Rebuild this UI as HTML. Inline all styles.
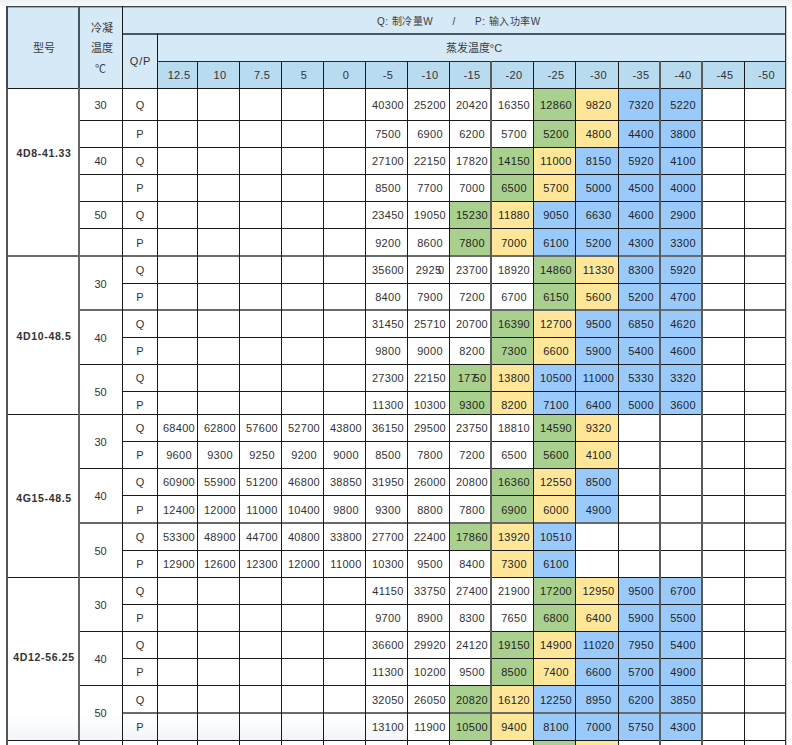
<!DOCTYPE html>
<html lang="zh-CN"><head><meta charset="utf-8"><style>
html,body{margin:0;padding:0;background:#fff;}
body{width:792px;height:745px;position:relative;overflow:hidden;font-family:"Liberation Sans",sans-serif;}
div,p{position:absolute;margin:0;padding:0;}
p{font-size:11px;color:#333;text-align:center;white-space:nowrap;}
p.b{font-weight:bold;font-size:10.5px;letter-spacing:0.65px;}
p.d{letter-spacing:0.3px;}
p.k{color:#242424;}
p.l{text-align:left;}
p.h1{font-size:10px;letter-spacing:0.5px;color:#3c3c3c;}
p.h2{color:#3c3c3c;}
p.qp{letter-spacing:0.8px;}
p.cj{font-size:11px;color:#3c3c3c;}
</style></head><body>
<div style="left:0px;top:0px;width:792px;height:6px;background:linear-gradient(#eef1f4,#f8f9fb);"></div>
<div style="left:6px;top:6px;width:780px;height:82px;background:#d5e9f7;"></div>
<div style="left:157px;top:61px;width:629px;height:27px;background:#b8dbf0;"></div>
<div style="left:533px;top:88px;width:42px;height:32px;background:#a9d08e;"></div>
<div style="left:575px;top:88px;width:43px;height:32px;background:#ffe699;"></div>
<div style="left:618px;top:88px;width:42px;height:32px;background:#9acafb;"></div>
<div style="left:660px;top:88px;width:42px;height:32px;background:#9acafb;"></div>
<div style="left:533px;top:120px;width:42px;height:27px;background:#a9d08e;"></div>
<div style="left:575px;top:120px;width:43px;height:27px;background:#ffe699;"></div>
<div style="left:618px;top:120px;width:42px;height:27px;background:#9acafb;"></div>
<div style="left:660px;top:120px;width:42px;height:27px;background:#9acafb;"></div>
<div style="left:491px;top:147px;width:42px;height:27px;background:#a9d08e;"></div>
<div style="left:533px;top:147px;width:42px;height:27px;background:#ffe699;"></div>
<div style="left:575px;top:147px;width:43px;height:27px;background:#9acafb;"></div>
<div style="left:618px;top:147px;width:42px;height:27px;background:#9acafb;"></div>
<div style="left:660px;top:147px;width:42px;height:27px;background:#9acafb;"></div>
<div style="left:491px;top:174px;width:42px;height:27px;background:#a9d08e;"></div>
<div style="left:533px;top:174px;width:42px;height:27px;background:#ffe699;"></div>
<div style="left:575px;top:174px;width:43px;height:27px;background:#9acafb;"></div>
<div style="left:618px;top:174px;width:42px;height:27px;background:#9acafb;"></div>
<div style="left:660px;top:174px;width:42px;height:27px;background:#9acafb;"></div>
<div style="left:449px;top:201px;width:42px;height:27px;background:#a9d08e;"></div>
<div style="left:491px;top:201px;width:42px;height:27px;background:#ffe699;"></div>
<div style="left:533px;top:201px;width:42px;height:27px;background:#9acafb;"></div>
<div style="left:575px;top:201px;width:43px;height:27px;background:#9acafb;"></div>
<div style="left:618px;top:201px;width:42px;height:27px;background:#9acafb;"></div>
<div style="left:660px;top:201px;width:42px;height:27px;background:#9acafb;"></div>
<div style="left:449px;top:228px;width:42px;height:28px;background:#a9d08e;"></div>
<div style="left:491px;top:228px;width:42px;height:28px;background:#ffe699;"></div>
<div style="left:533px;top:228px;width:42px;height:28px;background:#9acafb;"></div>
<div style="left:575px;top:228px;width:43px;height:28px;background:#9acafb;"></div>
<div style="left:618px;top:228px;width:42px;height:28px;background:#9acafb;"></div>
<div style="left:660px;top:228px;width:42px;height:28px;background:#9acafb;"></div>
<div style="left:533px;top:256px;width:42px;height:27px;background:#a9d08e;"></div>
<div style="left:575px;top:256px;width:43px;height:27px;background:#ffe699;"></div>
<div style="left:618px;top:256px;width:42px;height:27px;background:#9acafb;"></div>
<div style="left:660px;top:256px;width:42px;height:27px;background:#9acafb;"></div>
<div style="left:533px;top:283px;width:42px;height:27px;background:#a9d08e;"></div>
<div style="left:575px;top:283px;width:43px;height:27px;background:#ffe699;"></div>
<div style="left:618px;top:283px;width:42px;height:27px;background:#9acafb;"></div>
<div style="left:660px;top:283px;width:42px;height:27px;background:#9acafb;"></div>
<div style="left:491px;top:310px;width:42px;height:27px;background:#a9d08e;"></div>
<div style="left:533px;top:310px;width:42px;height:27px;background:#ffe699;"></div>
<div style="left:575px;top:310px;width:43px;height:27px;background:#9acafb;"></div>
<div style="left:618px;top:310px;width:42px;height:27px;background:#9acafb;"></div>
<div style="left:660px;top:310px;width:42px;height:27px;background:#9acafb;"></div>
<div style="left:491px;top:337px;width:42px;height:27px;background:#a9d08e;"></div>
<div style="left:533px;top:337px;width:42px;height:27px;background:#ffe699;"></div>
<div style="left:575px;top:337px;width:43px;height:27px;background:#9acafb;"></div>
<div style="left:618px;top:337px;width:42px;height:27px;background:#9acafb;"></div>
<div style="left:660px;top:337px;width:42px;height:27px;background:#9acafb;"></div>
<div style="left:449px;top:364px;width:42px;height:27px;background:#a9d08e;"></div>
<div style="left:491px;top:364px;width:42px;height:27px;background:#ffe699;"></div>
<div style="left:533px;top:364px;width:42px;height:27px;background:#9acafb;"></div>
<div style="left:575px;top:364px;width:43px;height:27px;background:#9acafb;"></div>
<div style="left:618px;top:364px;width:42px;height:27px;background:#9acafb;"></div>
<div style="left:660px;top:364px;width:42px;height:27px;background:#9acafb;"></div>
<div style="left:449px;top:391px;width:42px;height:23px;background:#a9d08e;"></div>
<div style="left:491px;top:391px;width:42px;height:23px;background:#ffe699;"></div>
<div style="left:533px;top:391px;width:42px;height:23px;background:#9acafb;"></div>
<div style="left:575px;top:391px;width:43px;height:23px;background:#9acafb;"></div>
<div style="left:618px;top:391px;width:42px;height:23px;background:#9acafb;"></div>
<div style="left:660px;top:391px;width:42px;height:23px;background:#9acafb;"></div>
<div style="left:533px;top:414px;width:42px;height:27px;background:#a9d08e;"></div>
<div style="left:575px;top:414px;width:43px;height:27px;background:#ffe699;"></div>
<div style="left:533px;top:441px;width:42px;height:27px;background:#a9d08e;"></div>
<div style="left:575px;top:441px;width:43px;height:27px;background:#ffe699;"></div>
<div style="left:491px;top:468px;width:42px;height:27px;background:#a9d08e;"></div>
<div style="left:533px;top:468px;width:42px;height:27px;background:#ffe699;"></div>
<div style="left:575px;top:468px;width:43px;height:27px;background:#9acafb;"></div>
<div style="left:491px;top:495px;width:42px;height:28px;background:#a9d08e;"></div>
<div style="left:533px;top:495px;width:42px;height:28px;background:#ffe699;"></div>
<div style="left:575px;top:495px;width:43px;height:28px;background:#9acafb;"></div>
<div style="left:449px;top:523px;width:42px;height:27px;background:#a9d08e;"></div>
<div style="left:491px;top:523px;width:42px;height:27px;background:#ffe699;"></div>
<div style="left:533px;top:523px;width:42px;height:27px;background:#9acafb;"></div>
<div style="left:491px;top:550px;width:42px;height:27px;background:#ffe699;"></div>
<div style="left:533px;top:550px;width:42px;height:27px;background:#9acafb;"></div>
<div style="left:533px;top:577px;width:42px;height:27px;background:#a9d08e;"></div>
<div style="left:575px;top:577px;width:43px;height:27px;background:#ffe699;"></div>
<div style="left:618px;top:577px;width:42px;height:27px;background:#9acafb;"></div>
<div style="left:660px;top:577px;width:42px;height:27px;background:#9acafb;"></div>
<div style="left:533px;top:604px;width:42px;height:27px;background:#a9d08e;"></div>
<div style="left:575px;top:604px;width:43px;height:27px;background:#ffe699;"></div>
<div style="left:618px;top:604px;width:42px;height:27px;background:#9acafb;"></div>
<div style="left:660px;top:604px;width:42px;height:27px;background:#9acafb;"></div>
<div style="left:491px;top:631px;width:42px;height:27px;background:#a9d08e;"></div>
<div style="left:533px;top:631px;width:42px;height:27px;background:#ffe699;"></div>
<div style="left:575px;top:631px;width:43px;height:27px;background:#9acafb;"></div>
<div style="left:618px;top:631px;width:42px;height:27px;background:#9acafb;"></div>
<div style="left:660px;top:631px;width:42px;height:27px;background:#9acafb;"></div>
<div style="left:491px;top:658px;width:42px;height:27px;background:#a9d08e;"></div>
<div style="left:533px;top:658px;width:42px;height:27px;background:#ffe699;"></div>
<div style="left:575px;top:658px;width:43px;height:27px;background:#9acafb;"></div>
<div style="left:618px;top:658px;width:42px;height:27px;background:#9acafb;"></div>
<div style="left:660px;top:658px;width:42px;height:27px;background:#9acafb;"></div>
<div style="left:449px;top:685px;width:42px;height:28px;background:#a9d08e;"></div>
<div style="left:491px;top:685px;width:42px;height:28px;background:#ffe699;"></div>
<div style="left:533px;top:685px;width:42px;height:28px;background:#9acafb;"></div>
<div style="left:575px;top:685px;width:43px;height:28px;background:#9acafb;"></div>
<div style="left:618px;top:685px;width:42px;height:28px;background:#9acafb;"></div>
<div style="left:660px;top:685px;width:42px;height:28px;background:#9acafb;"></div>
<div style="left:449px;top:713px;width:42px;height:27px;background:#a9d08e;"></div>
<div style="left:491px;top:713px;width:42px;height:27px;background:#ffe699;"></div>
<div style="left:533px;top:713px;width:42px;height:27px;background:#9acafb;"></div>
<div style="left:575px;top:713px;width:43px;height:27px;background:#9acafb;"></div>
<div style="left:618px;top:713px;width:42px;height:27px;background:#9acafb;"></div>
<div style="left:660px;top:713px;width:42px;height:27px;background:#9acafb;"></div>
<div style="left:533px;top:740px;width:42px;height:5px;background:#a9d08e;"></div>
<div style="left:575px;top:740px;width:43px;height:5px;background:#ffe699;"></div>
<div style="left:8px;top:714px;width:400px;height:26px;background:linear-gradient(to bottom, rgba(240,245,250,0), rgba(238,244,249,1));opacity:0.8"></div>
<div style="left:6px;top:6px;width:780px;height:1px;background:#3a454e;"></div>
<div style="left:8px;top:7px;width:777px;height:1px;background:#9fabb5;"></div>
<div style="left:122px;top:33px;width:664px;height:2px;background:#4a5863;"></div>
<div style="left:157px;top:61px;width:629px;height:1px;background:#1d2b36;"></div>
<div style="left:6px;top:88px;width:780px;height:1px;background:#1a1a1a;"></div>
<div style="left:78px;top:120px;width:708px;height:1px;background:#1a1a1a;"></div>
<div style="left:78px;top:147px;width:708px;height:1px;background:#1a1a1a;"></div>
<div style="left:78px;top:174px;width:708px;height:1px;background:#1a1a1a;"></div>
<div style="left:78px;top:201px;width:708px;height:1px;background:#1a1a1a;"></div>
<div style="left:78px;top:228px;width:708px;height:1px;background:#1a1a1a;"></div>
<div style="left:6px;top:255px;width:780px;height:2px;background:#6a6a6a;"></div>
<div style="left:122px;top:283px;width:664px;height:1px;background:#1a1a1a;"></div>
<div style="left:78px;top:309px;width:708px;height:2px;background:#6a6a6a;"></div>
<div style="left:122px;top:337px;width:664px;height:1px;background:#1a1a1a;"></div>
<div style="left:78px;top:364px;width:708px;height:1px;background:#1a1a1a;"></div>
<div style="left:122px;top:391px;width:664px;height:1px;background:#1a1a1a;"></div>
<div style="left:6px;top:414px;width:780px;height:1px;background:#1a1a1a;"></div>
<div style="left:122px;top:441px;width:664px;height:1px;background:#1a1a1a;"></div>
<div style="left:78px;top:468px;width:708px;height:1px;background:#1a1a1a;"></div>
<div style="left:122px;top:495px;width:664px;height:1px;background:#1a1a1a;"></div>
<div style="left:78px;top:522px;width:708px;height:2px;background:#6a6a6a;"></div>
<div style="left:122px;top:550px;width:664px;height:1px;background:#1a1a1a;"></div>
<div style="left:6px;top:577px;width:780px;height:1px;background:#1a1a1a;"></div>
<div style="left:122px;top:604px;width:664px;height:1px;background:#1a1a1a;"></div>
<div style="left:78px;top:631px;width:708px;height:1px;background:#1a1a1a;"></div>
<div style="left:122px;top:658px;width:664px;height:1px;background:#1a1a1a;"></div>
<div style="left:78px;top:685px;width:708px;height:1px;background:#1a1a1a;"></div>
<div style="left:122px;top:712px;width:664px;height:2px;background:#6a6a6a;"></div>
<div style="left:6px;top:740px;width:780px;height:1px;background:#1a1a1a;"></div>
<div style="left:6px;top:6px;width:2px;height:739px;background:#555;"></div>
<div style="left:78px;top:6px;width:2px;height:739px;background:#666;"></div>
<div style="left:78px;top:6px;width:2px;height:82px;background:#47535d;"></div>
<div style="left:6px;top:6px;width:2px;height:82px;background:#3f4b55;"></div>
<div style="left:122px;top:6px;width:1px;height:739px;background:#1a1a1a;"></div>
<div style="left:157px;top:33px;width:1px;height:712px;background:#1a1a1a;"></div>
<div style="left:197px;top:61px;width:1px;height:684px;background:#1a1a1a;"></div>
<div style="left:239px;top:61px;width:1px;height:684px;background:#1a1a1a;"></div>
<div style="left:281px;top:61px;width:1px;height:684px;background:#1a1a1a;"></div>
<div style="left:323px;top:61px;width:1px;height:684px;background:#1a1a1a;"></div>
<div style="left:365px;top:61px;width:1px;height:684px;background:#1a1a1a;"></div>
<div style="left:407px;top:61px;width:1px;height:684px;background:#1a1a1a;"></div>
<div style="left:449px;top:61px;width:1px;height:684px;background:#1a1a1a;"></div>
<div style="left:490px;top:61px;width:2px;height:684px;background:#5a5a5a;"></div>
<div style="left:533px;top:61px;width:1px;height:684px;background:#1a1a1a;"></div>
<div style="left:575px;top:61px;width:1px;height:684px;background:#1a1a1a;"></div>
<div style="left:618px;top:61px;width:1px;height:684px;background:#1a1a1a;"></div>
<div style="left:659px;top:61px;width:2px;height:684px;background:#5a5a5a;"></div>
<div style="left:701px;top:61px;width:2px;height:684px;background:#5a5a5a;"></div>
<div style="left:744px;top:61px;width:1px;height:684px;background:#1a1a1a;"></div>
<div style="left:785px;top:6px;width:1px;height:739px;background:#333;"></div>
<div style="left:786px;top:6px;width:1px;height:739px;background:#c4c4c4;"></div>
<p class="cj" style="left:8px;top:7px;width:72px;height:82px;line-height:82px">型号</p>
<p class="cj" style="left:80px;top:18px;width:44px;height:60px;line-height:20px">冷凝<br>温度<br><span style="position:relative;left:-2px;top:0.5px">℃</span></p>
<p class="qp" style="left:123.5px;top:34px;width:34px;height:54px;line-height:54px">Q/P</p>
<p class="l h1" style="left:377px;top:9px;height:26px;line-height:26px">Q: 制冷量W</p>
<p class="l h1" style="left:452.5px;top:9px;height:26px;line-height:26px">/</p>
<p class="l h1" style="left:475px;top:9px;height:26px;line-height:26px">P: 输入功率W</p>
<p class="h2" style="left:160px;top:35px;width:628px;height:27px;line-height:27px">蒸发温度°C</p>
<p class="d" style="left:159px;top:62px;width:40px;height:26px;line-height:26px">12.5</p>
<p class="d" style="left:199px;top:62px;width:42px;height:26px;line-height:26px">10</p>
<p class="d" style="left:241px;top:62px;width:42px;height:26px;line-height:26px">7.5</p>
<p class="d" style="left:283px;top:62px;width:42px;height:26px;line-height:26px">5</p>
<p class="d" style="left:325px;top:62px;width:42px;height:26px;line-height:26px">0</p>
<p class="d" style="left:367px;top:62px;width:42px;height:26px;line-height:26px">-5</p>
<p class="d" style="left:409px;top:62px;width:42px;height:26px;line-height:26px">-10</p>
<p class="d" style="left:451px;top:62px;width:42px;height:26px;line-height:26px">-15</p>
<p class="d" style="left:493px;top:62px;width:42px;height:26px;line-height:26px">-20</p>
<p class="d" style="left:535px;top:62px;width:42px;height:26px;line-height:26px">-25</p>
<p class="d" style="left:577px;top:62px;width:43px;height:26px;line-height:26px">-30</p>
<p class="d" style="left:620px;top:62px;width:42px;height:26px;line-height:26px">-35</p>
<p class="d" style="left:662px;top:62px;width:42px;height:26px;line-height:26px">-40</p>
<p class="d" style="left:704px;top:62px;width:42px;height:26px;line-height:26px">-45</p>
<p class="d" style="left:746px;top:62px;width:41px;height:26px;line-height:26px">-50</p>
<p class="b" style="left:8px;top:140px;width:72px;height:26px;line-height:26px">4D8-41.33</p>
<p style="left:79px;top:89px;width:43px;height:32px;line-height:32px">30</p>
<p style="left:79px;top:148px;width:43px;height:27px;line-height:27px">40</p>
<p style="left:79px;top:202px;width:43px;height:27px;line-height:27px">50</p>
<p style="left:123px;top:89px;width:34px;height:32px;line-height:32px">Q</p>
<p class="d" style="left:367px;top:89px;width:42px;height:32px;line-height:32px">40300</p>
<p class="d" style="left:409px;top:89px;width:42px;height:32px;line-height:32px">25200</p>
<p class="d" style="left:451px;top:89px;width:42px;height:32px;line-height:32px">20420</p>
<p class="d" style="left:493px;top:89px;width:42px;height:32px;line-height:32px">16350</p>
<p class="d k" style="left:535px;top:89px;width:42px;height:32px;line-height:32px">12860</p>
<p class="d k" style="left:577px;top:89px;width:43px;height:32px;line-height:32px">9820</p>
<p class="d k" style="left:620px;top:89px;width:42px;height:32px;line-height:32px">7320</p>
<p class="d k" style="left:662px;top:89px;width:42px;height:32px;line-height:32px">5220</p>
<p style="left:123px;top:121px;width:34px;height:27px;line-height:27px">P</p>
<p class="d" style="left:367px;top:121px;width:42px;height:27px;line-height:27px">7500</p>
<p class="d" style="left:409px;top:121px;width:42px;height:27px;line-height:27px">6900</p>
<p class="d" style="left:451px;top:121px;width:42px;height:27px;line-height:27px">6200</p>
<p class="d" style="left:493px;top:121px;width:42px;height:27px;line-height:27px">5700</p>
<p class="d k" style="left:535px;top:121px;width:42px;height:27px;line-height:27px">5200</p>
<p class="d k" style="left:577px;top:121px;width:43px;height:27px;line-height:27px">4800</p>
<p class="d k" style="left:620px;top:121px;width:42px;height:27px;line-height:27px">4400</p>
<p class="d k" style="left:662px;top:121px;width:42px;height:27px;line-height:27px">3800</p>
<p style="left:123px;top:148px;width:34px;height:27px;line-height:27px">Q</p>
<p class="d" style="left:367px;top:148px;width:42px;height:27px;line-height:27px">27100</p>
<p class="d" style="left:409px;top:148px;width:42px;height:27px;line-height:27px">22150</p>
<p class="d" style="left:451px;top:148px;width:42px;height:27px;line-height:27px">17820</p>
<p class="d k" style="left:493px;top:148px;width:42px;height:27px;line-height:27px">14150</p>
<p class="d k" style="left:535px;top:148px;width:42px;height:27px;line-height:27px">11000</p>
<p class="d k" style="left:577px;top:148px;width:43px;height:27px;line-height:27px">8150</p>
<p class="d k" style="left:620px;top:148px;width:42px;height:27px;line-height:27px">5920</p>
<p class="d k" style="left:662px;top:148px;width:42px;height:27px;line-height:27px">4100</p>
<p style="left:123px;top:175px;width:34px;height:27px;line-height:27px">P</p>
<p class="d" style="left:367px;top:175px;width:42px;height:27px;line-height:27px">8500</p>
<p class="d" style="left:409px;top:175px;width:42px;height:27px;line-height:27px">7700</p>
<p class="d" style="left:451px;top:175px;width:42px;height:27px;line-height:27px">7000</p>
<p class="d k" style="left:493px;top:175px;width:42px;height:27px;line-height:27px">6500</p>
<p class="d k" style="left:535px;top:175px;width:42px;height:27px;line-height:27px">5700</p>
<p class="d k" style="left:577px;top:175px;width:43px;height:27px;line-height:27px">5000</p>
<p class="d k" style="left:620px;top:175px;width:42px;height:27px;line-height:27px">4500</p>
<p class="d k" style="left:662px;top:175px;width:42px;height:27px;line-height:27px">4000</p>
<p style="left:123px;top:202px;width:34px;height:27px;line-height:27px">Q</p>
<p class="d" style="left:367px;top:202px;width:42px;height:27px;line-height:27px">23450</p>
<p class="d" style="left:409px;top:202px;width:42px;height:27px;line-height:27px">19050</p>
<p class="d k" style="left:451px;top:202px;width:42px;height:27px;line-height:27px">15230</p>
<p class="d k" style="left:493px;top:202px;width:42px;height:27px;line-height:27px">11880</p>
<p class="d k" style="left:535px;top:202px;width:42px;height:27px;line-height:27px">9050</p>
<p class="d k" style="left:577px;top:202px;width:43px;height:27px;line-height:27px">6630</p>
<p class="d k" style="left:620px;top:202px;width:42px;height:27px;line-height:27px">4600</p>
<p class="d k" style="left:662px;top:202px;width:42px;height:27px;line-height:27px">2900</p>
<p style="left:123px;top:229px;width:34px;height:28px;line-height:28px">P</p>
<p class="d" style="left:367px;top:229px;width:42px;height:28px;line-height:28px">9200</p>
<p class="d" style="left:409px;top:229px;width:42px;height:28px;line-height:28px">8600</p>
<p class="d k" style="left:451px;top:229px;width:42px;height:28px;line-height:28px">7800</p>
<p class="d k" style="left:493px;top:229px;width:42px;height:28px;line-height:28px">7000</p>
<p class="d k" style="left:535px;top:229px;width:42px;height:28px;line-height:28px">6100</p>
<p class="d k" style="left:577px;top:229px;width:43px;height:28px;line-height:28px">5200</p>
<p class="d k" style="left:620px;top:229px;width:42px;height:28px;line-height:28px">4300</p>
<p class="d k" style="left:662px;top:229px;width:42px;height:28px;line-height:28px">3300</p>
<p class="b" style="left:8px;top:323px;width:72px;height:26px;line-height:26px">4D10-48.5</p>
<p style="left:79px;top:257px;width:43px;height:54px;line-height:54px">30</p>
<p style="left:79px;top:311px;width:43px;height:54px;line-height:54px">40</p>
<p style="left:79px;top:365px;width:43px;height:54px;line-height:54px">50</p>
<p style="left:123px;top:257px;width:34px;height:27px;line-height:27px">Q</p>
<p class="d" style="left:367px;top:257px;width:42px;height:27px;line-height:27px">35600</p>
<p class="d" style="left:409px;top:257px;width:42px;height:27px;line-height:27px">2925<span style="margin-left:-3.5px">0</span></p>
<p class="d" style="left:451px;top:257px;width:42px;height:27px;line-height:27px">23700</p>
<p class="d" style="left:493px;top:257px;width:42px;height:27px;line-height:27px">18920</p>
<p class="d k" style="left:535px;top:257px;width:42px;height:27px;line-height:27px">14860</p>
<p class="d k" style="left:577px;top:257px;width:43px;height:27px;line-height:27px">11330</p>
<p class="d k" style="left:620px;top:257px;width:42px;height:27px;line-height:27px">8300</p>
<p class="d k" style="left:662px;top:257px;width:42px;height:27px;line-height:27px">5920</p>
<p style="left:123px;top:284px;width:34px;height:27px;line-height:27px">P</p>
<p class="d" style="left:367px;top:284px;width:42px;height:27px;line-height:27px">8400</p>
<p class="d" style="left:409px;top:284px;width:42px;height:27px;line-height:27px">7900</p>
<p class="d" style="left:451px;top:284px;width:42px;height:27px;line-height:27px">7200</p>
<p class="d" style="left:493px;top:284px;width:42px;height:27px;line-height:27px">6700</p>
<p class="d k" style="left:535px;top:284px;width:42px;height:27px;line-height:27px">6150</p>
<p class="d k" style="left:577px;top:284px;width:43px;height:27px;line-height:27px">5600</p>
<p class="d k" style="left:620px;top:284px;width:42px;height:27px;line-height:27px">5200</p>
<p class="d k" style="left:662px;top:284px;width:42px;height:27px;line-height:27px">4700</p>
<p style="left:123px;top:311px;width:34px;height:27px;line-height:27px">Q</p>
<p class="d" style="left:367px;top:311px;width:42px;height:27px;line-height:27px">31450</p>
<p class="d" style="left:409px;top:311px;width:42px;height:27px;line-height:27px">25710</p>
<p class="d" style="left:451px;top:311px;width:42px;height:27px;line-height:27px">20700</p>
<p class="d k" style="left:493px;top:311px;width:42px;height:27px;line-height:27px">16390</p>
<p class="d k" style="left:535px;top:311px;width:42px;height:27px;line-height:27px">12700</p>
<p class="d k" style="left:577px;top:311px;width:43px;height:27px;line-height:27px">9500</p>
<p class="d k" style="left:620px;top:311px;width:42px;height:27px;line-height:27px">6850</p>
<p class="d k" style="left:662px;top:311px;width:42px;height:27px;line-height:27px">4620</p>
<p style="left:123px;top:338px;width:34px;height:27px;line-height:27px">P</p>
<p class="d" style="left:367px;top:338px;width:42px;height:27px;line-height:27px">9800</p>
<p class="d" style="left:409px;top:338px;width:42px;height:27px;line-height:27px">9000</p>
<p class="d" style="left:451px;top:338px;width:42px;height:27px;line-height:27px">8200</p>
<p class="d k" style="left:493px;top:338px;width:42px;height:27px;line-height:27px">7300</p>
<p class="d k" style="left:535px;top:338px;width:42px;height:27px;line-height:27px">6600</p>
<p class="d k" style="left:577px;top:338px;width:43px;height:27px;line-height:27px">5900</p>
<p class="d k" style="left:620px;top:338px;width:42px;height:27px;line-height:27px">5400</p>
<p class="d k" style="left:662px;top:338px;width:42px;height:27px;line-height:27px">4600</p>
<p style="left:123px;top:365px;width:34px;height:27px;line-height:27px">Q</p>
<p class="d" style="left:367px;top:365px;width:42px;height:27px;line-height:27px">27300</p>
<p class="d" style="left:409px;top:365px;width:42px;height:27px;line-height:27px">22150</p>
<p class="d k" style="left:451px;top:365px;width:42px;height:27px;line-height:27px">177<span style="margin-left:-3.5px">5</span>0</p>
<p class="d k" style="left:493px;top:365px;width:42px;height:27px;line-height:27px">13800</p>
<p class="d k" style="left:535px;top:365px;width:42px;height:27px;line-height:27px">10500</p>
<p class="d k" style="left:577px;top:365px;width:43px;height:27px;line-height:27px">11000</p>
<p class="d k" style="left:620px;top:365px;width:42px;height:27px;line-height:27px">5330</p>
<p class="d k" style="left:662px;top:365px;width:42px;height:27px;line-height:27px">3320</p>
<p style="left:123px;top:392px;width:34px;height:27px;line-height:27px">P</p>
<p class="d" style="left:367px;top:392px;width:42px;height:27px;line-height:27px">11300</p>
<p class="d" style="left:409px;top:392px;width:42px;height:27px;line-height:27px">10300</p>
<p class="d k" style="left:451px;top:392px;width:42px;height:27px;line-height:27px">9300</p>
<p class="d k" style="left:493px;top:392px;width:42px;height:27px;line-height:27px">8200</p>
<p class="d k" style="left:535px;top:392px;width:42px;height:27px;line-height:27px">7100</p>
<p class="d k" style="left:577px;top:392px;width:43px;height:27px;line-height:27px">6400</p>
<p class="d k" style="left:620px;top:392px;width:42px;height:27px;line-height:27px">5000</p>
<p class="d k" style="left:662px;top:392px;width:42px;height:27px;line-height:27px">3600</p>
<p class="b" style="left:8px;top:484.5px;width:72px;height:26px;line-height:26px">4G15-48.5</p>
<p style="left:79px;top:415px;width:43px;height:54px;line-height:54px">30</p>
<p style="left:79px;top:469px;width:43px;height:55px;line-height:55px">40</p>
<p style="left:79px;top:524px;width:43px;height:54px;line-height:54px">50</p>
<p style="left:123px;top:415px;width:34px;height:27px;line-height:27px">Q</p>
<p class="d" style="left:159px;top:415px;width:40px;height:27px;line-height:27px">68400</p>
<p class="d" style="left:199px;top:415px;width:42px;height:27px;line-height:27px">62800</p>
<p class="d" style="left:241px;top:415px;width:42px;height:27px;line-height:27px">57600</p>
<p class="d" style="left:283px;top:415px;width:42px;height:27px;line-height:27px">52700</p>
<p class="d" style="left:325px;top:415px;width:42px;height:27px;line-height:27px">43800</p>
<p class="d" style="left:367px;top:415px;width:42px;height:27px;line-height:27px">36150</p>
<p class="d" style="left:409px;top:415px;width:42px;height:27px;line-height:27px">29500</p>
<p class="d" style="left:451px;top:415px;width:42px;height:27px;line-height:27px">23750</p>
<p class="d" style="left:493px;top:415px;width:42px;height:27px;line-height:27px">18810</p>
<p class="d k" style="left:535px;top:415px;width:42px;height:27px;line-height:27px">14590</p>
<p class="d k" style="left:577px;top:415px;width:43px;height:27px;line-height:27px">9320</p>
<p style="left:123px;top:442px;width:34px;height:27px;line-height:27px">P</p>
<p class="d" style="left:159px;top:442px;width:40px;height:27px;line-height:27px">9600</p>
<p class="d" style="left:199px;top:442px;width:42px;height:27px;line-height:27px">9300</p>
<p class="d" style="left:241px;top:442px;width:42px;height:27px;line-height:27px">9250</p>
<p class="d" style="left:283px;top:442px;width:42px;height:27px;line-height:27px">9200</p>
<p class="d" style="left:325px;top:442px;width:42px;height:27px;line-height:27px">9000</p>
<p class="d" style="left:367px;top:442px;width:42px;height:27px;line-height:27px">8500</p>
<p class="d" style="left:409px;top:442px;width:42px;height:27px;line-height:27px">7800</p>
<p class="d" style="left:451px;top:442px;width:42px;height:27px;line-height:27px">7200</p>
<p class="d" style="left:493px;top:442px;width:42px;height:27px;line-height:27px">6500</p>
<p class="d k" style="left:535px;top:442px;width:42px;height:27px;line-height:27px">5600</p>
<p class="d k" style="left:577px;top:442px;width:43px;height:27px;line-height:27px">4100</p>
<p style="left:123px;top:469px;width:34px;height:27px;line-height:27px">Q</p>
<p class="d" style="left:159px;top:469px;width:40px;height:27px;line-height:27px">60900</p>
<p class="d" style="left:199px;top:469px;width:42px;height:27px;line-height:27px">55900</p>
<p class="d" style="left:241px;top:469px;width:42px;height:27px;line-height:27px">51200</p>
<p class="d" style="left:283px;top:469px;width:42px;height:27px;line-height:27px">46800</p>
<p class="d" style="left:325px;top:469px;width:42px;height:27px;line-height:27px">38850</p>
<p class="d" style="left:367px;top:469px;width:42px;height:27px;line-height:27px">31950</p>
<p class="d" style="left:409px;top:469px;width:42px;height:27px;line-height:27px">26000</p>
<p class="d" style="left:451px;top:469px;width:42px;height:27px;line-height:27px">20800</p>
<p class="d k" style="left:493px;top:469px;width:42px;height:27px;line-height:27px">16360</p>
<p class="d k" style="left:535px;top:469px;width:42px;height:27px;line-height:27px">12550</p>
<p class="d k" style="left:577px;top:469px;width:43px;height:27px;line-height:27px">8500</p>
<p style="left:123px;top:496px;width:34px;height:28px;line-height:28px">P</p>
<p class="d" style="left:159px;top:496px;width:40px;height:28px;line-height:28px">12400</p>
<p class="d" style="left:199px;top:496px;width:42px;height:28px;line-height:28px">12000</p>
<p class="d" style="left:241px;top:496px;width:42px;height:28px;line-height:28px">11000</p>
<p class="d" style="left:283px;top:496px;width:42px;height:28px;line-height:28px">10400</p>
<p class="d" style="left:325px;top:496px;width:42px;height:28px;line-height:28px">9800</p>
<p class="d" style="left:367px;top:496px;width:42px;height:28px;line-height:28px">9300</p>
<p class="d" style="left:409px;top:496px;width:42px;height:28px;line-height:28px">8800</p>
<p class="d" style="left:451px;top:496px;width:42px;height:28px;line-height:28px">7800</p>
<p class="d k" style="left:493px;top:496px;width:42px;height:28px;line-height:28px">6900</p>
<p class="d k" style="left:535px;top:496px;width:42px;height:28px;line-height:28px">6000</p>
<p class="d k" style="left:577px;top:496px;width:43px;height:28px;line-height:28px">4900</p>
<p style="left:123px;top:524px;width:34px;height:27px;line-height:27px">Q</p>
<p class="d" style="left:159px;top:524px;width:40px;height:27px;line-height:27px">53300</p>
<p class="d" style="left:199px;top:524px;width:42px;height:27px;line-height:27px">48900</p>
<p class="d" style="left:241px;top:524px;width:42px;height:27px;line-height:27px">44700</p>
<p class="d" style="left:283px;top:524px;width:42px;height:27px;line-height:27px">40800</p>
<p class="d" style="left:325px;top:524px;width:42px;height:27px;line-height:27px">33800</p>
<p class="d" style="left:367px;top:524px;width:42px;height:27px;line-height:27px">27700</p>
<p class="d" style="left:409px;top:524px;width:42px;height:27px;line-height:27px">22400</p>
<p class="d k" style="left:451px;top:524px;width:42px;height:27px;line-height:27px">17860</p>
<p class="d k" style="left:493px;top:524px;width:42px;height:27px;line-height:27px">13920</p>
<p class="d k" style="left:535px;top:524px;width:42px;height:27px;line-height:27px">10510</p>
<p style="left:123px;top:551px;width:34px;height:27px;line-height:27px">P</p>
<p class="d" style="left:159px;top:551px;width:40px;height:27px;line-height:27px">12900</p>
<p class="d" style="left:199px;top:551px;width:42px;height:27px;line-height:27px">12600</p>
<p class="d" style="left:241px;top:551px;width:42px;height:27px;line-height:27px">12300</p>
<p class="d" style="left:283px;top:551px;width:42px;height:27px;line-height:27px">12000</p>
<p class="d" style="left:325px;top:551px;width:42px;height:27px;line-height:27px">11000</p>
<p class="d" style="left:367px;top:551px;width:42px;height:27px;line-height:27px">10300</p>
<p class="d" style="left:409px;top:551px;width:42px;height:27px;line-height:27px">9500</p>
<p class="d" style="left:451px;top:551px;width:42px;height:27px;line-height:27px">8400</p>
<p class="d k" style="left:493px;top:551px;width:42px;height:27px;line-height:27px">7300</p>
<p class="d k" style="left:535px;top:551px;width:42px;height:27px;line-height:27px">6100</p>
<p class="b" style="left:8px;top:644px;width:72px;height:26px;line-height:26px">4D12-56.25</p>
<p style="left:79px;top:578px;width:43px;height:54px;line-height:54px">30</p>
<p style="left:79px;top:632px;width:43px;height:54px;line-height:54px">40</p>
<p style="left:79px;top:686px;width:43px;height:55px;line-height:55px">50</p>
<p style="left:123px;top:578px;width:34px;height:27px;line-height:27px">Q</p>
<p class="d" style="left:367px;top:578px;width:42px;height:27px;line-height:27px">41150</p>
<p class="d" style="left:409px;top:578px;width:42px;height:27px;line-height:27px">33750</p>
<p class="d" style="left:451px;top:578px;width:42px;height:27px;line-height:27px">27400</p>
<p class="d" style="left:493px;top:578px;width:42px;height:27px;line-height:27px">21900</p>
<p class="d k" style="left:535px;top:578px;width:42px;height:27px;line-height:27px">17200</p>
<p class="d k" style="left:577px;top:578px;width:43px;height:27px;line-height:27px">12950</p>
<p class="d k" style="left:620px;top:578px;width:42px;height:27px;line-height:27px">9500</p>
<p class="d k" style="left:662px;top:578px;width:42px;height:27px;line-height:27px">6700</p>
<p style="left:123px;top:605px;width:34px;height:27px;line-height:27px">P</p>
<p class="d" style="left:367px;top:605px;width:42px;height:27px;line-height:27px">9700</p>
<p class="d" style="left:409px;top:605px;width:42px;height:27px;line-height:27px">8900</p>
<p class="d" style="left:451px;top:605px;width:42px;height:27px;line-height:27px">8300</p>
<p class="d" style="left:493px;top:605px;width:42px;height:27px;line-height:27px">7650</p>
<p class="d k" style="left:535px;top:605px;width:42px;height:27px;line-height:27px">6800</p>
<p class="d k" style="left:577px;top:605px;width:43px;height:27px;line-height:27px">6400</p>
<p class="d k" style="left:620px;top:605px;width:42px;height:27px;line-height:27px">5900</p>
<p class="d k" style="left:662px;top:605px;width:42px;height:27px;line-height:27px">5500</p>
<p style="left:123px;top:632px;width:34px;height:27px;line-height:27px">Q</p>
<p class="d" style="left:367px;top:632px;width:42px;height:27px;line-height:27px">36600</p>
<p class="d" style="left:409px;top:632px;width:42px;height:27px;line-height:27px">29920</p>
<p class="d" style="left:451px;top:632px;width:42px;height:27px;line-height:27px">24120</p>
<p class="d k" style="left:493px;top:632px;width:42px;height:27px;line-height:27px">19150</p>
<p class="d k" style="left:535px;top:632px;width:42px;height:27px;line-height:27px">14900</p>
<p class="d k" style="left:577px;top:632px;width:43px;height:27px;line-height:27px">11020</p>
<p class="d k" style="left:620px;top:632px;width:42px;height:27px;line-height:27px">7950</p>
<p class="d k" style="left:662px;top:632px;width:42px;height:27px;line-height:27px">5400</p>
<p style="left:123px;top:659px;width:34px;height:27px;line-height:27px">P</p>
<p class="d" style="left:367px;top:659px;width:42px;height:27px;line-height:27px">11300</p>
<p class="d" style="left:409px;top:659px;width:42px;height:27px;line-height:27px">10200</p>
<p class="d" style="left:451px;top:659px;width:42px;height:27px;line-height:27px">9500</p>
<p class="d k" style="left:493px;top:659px;width:42px;height:27px;line-height:27px">8500</p>
<p class="d k" style="left:535px;top:659px;width:42px;height:27px;line-height:27px">7400</p>
<p class="d k" style="left:577px;top:659px;width:43px;height:27px;line-height:27px">6600</p>
<p class="d k" style="left:620px;top:659px;width:42px;height:27px;line-height:27px">5700</p>
<p class="d k" style="left:662px;top:659px;width:42px;height:27px;line-height:27px">4900</p>
<p style="left:123px;top:686px;width:34px;height:28px;line-height:28px">Q</p>
<p class="d" style="left:367px;top:686px;width:42px;height:28px;line-height:28px">32050</p>
<p class="d" style="left:409px;top:686px;width:42px;height:28px;line-height:28px">26050</p>
<p class="d k" style="left:451px;top:686px;width:42px;height:28px;line-height:28px">20820</p>
<p class="d k" style="left:493px;top:686px;width:42px;height:28px;line-height:28px">16120</p>
<p class="d k" style="left:535px;top:686px;width:42px;height:28px;line-height:28px">12250</p>
<p class="d k" style="left:577px;top:686px;width:43px;height:28px;line-height:28px">8950</p>
<p class="d k" style="left:620px;top:686px;width:42px;height:28px;line-height:28px">6200</p>
<p class="d k" style="left:662px;top:686px;width:42px;height:28px;line-height:28px">3850</p>
<p style="left:123px;top:714px;width:34px;height:27px;line-height:27px">P</p>
<p class="d" style="left:367px;top:714px;width:42px;height:27px;line-height:27px">13100</p>
<p class="d" style="left:409px;top:714px;width:42px;height:27px;line-height:27px">11900</p>
<p class="d k" style="left:451px;top:714px;width:42px;height:27px;line-height:27px">10500</p>
<p class="d k" style="left:493px;top:714px;width:42px;height:27px;line-height:27px">9400</p>
<p class="d k" style="left:535px;top:714px;width:42px;height:27px;line-height:27px">8100</p>
<p class="d k" style="left:577px;top:714px;width:43px;height:27px;line-height:27px">7000</p>
<p class="d k" style="left:620px;top:714px;width:42px;height:27px;line-height:27px">5750</p>
<p class="d k" style="left:662px;top:714px;width:42px;height:27px;line-height:27px">4300</p>
</body></html>
